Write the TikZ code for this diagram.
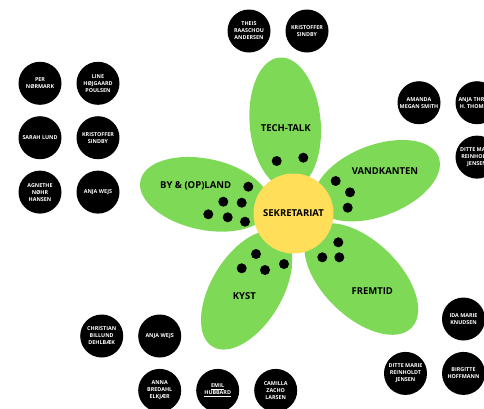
\documentclass[tikz,border=0pt]{standalone}
\usepackage{fontspec}
\setmainfont{Open Sans}
\usepackage{tikz}
\definecolor{petalgreen}{RGB}{126,217,87}
\definecolor{hubyellow}{RGB}{255,222,89}
\tikzstyle{petal}=[ellipse,fill=petalgreen,minimum width=132pt,
minimum height=71pt,inner sep=0pt]
\tikzstyle{hub}=[circle,fill=hubyellow,minimum size=80pt,inner sep=0pt,
font=\fontsize{9.5}{11}\selectfont\bfseries]
\tikzstyle{group}=[font=\fontsize{9.5}{11}\selectfont\bfseries]
\tikzstyle{seat}=[circle,fill=black,minimum size=10pt,inner sep=0pt]
\tikzstyle{member}=[circle,fill=black,minimum size=43pt,inner sep=0pt,
text=white,align=center,font=\fontsize{5.4}{7}\selectfont\bfseries]
\usetikzlibrary{positioning,shapes}

\begin{document}
\begin{tikzpicture}[x=1pt,y=-1pt,node distance=58pt]
            \useasboundingbox (0,0) rectangle (484,408);
            \fill[white] (0,0) rectangle (484,408);
            \clip (0,0) rectangle (484,408);

            % PETALS

            \node[petal, rotate=95] (techpetal) at (285.2,123.3) {};
            \node[petal, rotate=21] (vandpetal) at (377.0,180.7) {};
            \node[petal, rotate=168] (bypetal) at (205.0,194.3) {};
            \node[petal, rotate=-121] (kystpetal) at (246.6,290.1) {};
            \node[petal, minimum width=140pt, minimum height=76pt, rotate=-44] (fremtidpetal) at (361.3,279.0) {};

            % SEKRETARIAT

            \node[hub] (sek) at (293.5,213.5) {SEKRETARIAT};

            \node[group] (tech) at (285.7,127.7) {TECH-TALK};
            \node[group] (vand) at (385.0,170.7) {VANDKANTEN};
            \node[group] (by) at (195.7,185.7) {BY \& (OP)LAND};
            \node[group] (kyst) at (244.3,296.0) {KYST};
            \node[group] (fremtid) at (372.3,290.7) {FREMTID};

            % SEATS

            \node[seat] (s1) at (276.7,161.0) {};
            \node[seat] (s2) at (303.3,157.7) {};

            \node[seat] (s3) at (335.7,181.0) {};
            \node[seat] (s4) at (350.0,192.3) {};
            \node[seat] (s5) at (347.7,207.7) {};

            \node[seat] (s6) at (248.3,186.7) {};
            \node[seat] (s7) at (223.3,201.7) {};
            \node[seat] (s8) at (241.7,202.7) {};
            \node[seat] (s9) at (208.3,214.3) {};
            \node[seat] (s10) at (227.7,217.3) {};
            \node[seat] (s11) at (245.0,221.7) {};

            \node[seat] (s12) at (338.3,242.3) {};
            \node[seat] (s13) at (322.3,257.3) {};
            \node[seat] (s14) at (339.3,257.3) {};

            \node[seat] (s15) at (256.0,254.0) {};
            \node[seat] (s16) at (241.7,268.3) {};
            \node[seat] (s17) at (265.0,270.0) {};
            \node[seat] (s18) at (284.0,264.0) {};

            % MEMBERS LEFT

            \node[member] (a1) at (40,83.3) {PER\\N\O RMARK};
            \node[member, right of=a1] (a2) {LINE\\H\O JGAARD\\POULSEN};
            \node[member, below=11pt of a1] (a3) {SARAH LUND};
            \node[member, right of=a3] (a4) {KRISTOFFER\\SINDBY};
            \node[member, below=11pt of a3] (a5) {AGNETHE\\N\O HR\\HANSEN};
            \node[member, right of=a5] (a6) {ANJA WEJS};

            % MEMBERS TOP

            \node[member] (b1) at (249,31) {THEIS\\RAASCHOU\\ANDERSEN};
            \node[member, right of=b1] (b2) {KRISTOFFER\\SINDBY};

            % MEMBERS RIGHT

            \node[member] (c1) at (419,102.7) {AMANDA\\MEGAN SMITH};
            \node[member, right of=c1] (c2) {ANJA THRANE\\H. THOMSEN};
            \node[member, below=11pt of c2] (c3) {DITTE MARIE\\REINHOLDT\\JENSEN};

            % MEMBERS BOTTOM

            \node[member] (e1) at (101.7,336) {CHRISTIAN\\BILLUND\\DEHLB\AE K};
            \node[member, right of=e1] (e2) {ANJA WEJS};
            \node[member, below=11pt of e2] (e3) {ANNA\\BREDAHL\\ELKJ\AE R};
            \node[member, right of=e3] (e4) {\underline{EMIL}\\\underline{HUBBARD}};
            \node[member, right of=e4] (e5) {CAMILLA\\ZACHO\\LARSEN};

            \node[member] (f1) at (463.5,319) {IDA MARIE\\KNUDSEN};
            \node[member, below=11pt of f1] (f3) {BIRGITTE\\HOFFMANN};
            \node[member, left of=f3] (f2) {DITTE MARIE\\REINHOLDT\\JENSEN};

\end{tikzpicture}
\end{document}
